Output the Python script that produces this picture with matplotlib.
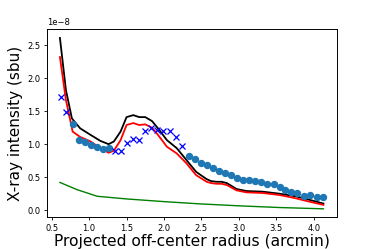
import matplotlib
matplotlib.use("Agg")
import matplotlib.pyplot as plt
import numpy as np

# Data (units of 1e-8 sbu)
dot_x = [0.78, 0.86, 0.94, 1.03, 1.11, 1.19, 1.27,
         2.33, 2.41, 2.49, 2.57, 2.65, 2.74, 2.81, 2.89, 2.97, 3.05, 3.13, 3.22,
         3.30, 3.38, 3.47, 3.55, 3.62, 3.70, 3.78, 3.87, 3.95, 4.04, 4.12]
dot_y = [1.30, 1.07, 1.03, 0.99, 0.95, 0.93, 0.94,
         0.82, 0.77, 0.72, 0.68, 0.64, 0.59, 0.56, 0.53, 0.49, 0.45, 0.46, 0.44,
         0.42, 0.40, 0.40, 0.35, 0.31, 0.28, 0.26, 0.22, 0.23, 0.20, 0.20]

cross_x = [0.62, 0.69, 1.35, 1.43, 1.51, 1.59, 1.67, 1.75, 1.83, 1.91, 1.99, 2.08, 2.16, 2.24]
cross_y = [1.71, 1.48, 0.90, 0.89, 1.02, 1.08, 1.06, 1.20, 1.24, 1.21, 1.20, 1.20, 1.11, 0.97]

black_x = [0.61, 0.69, 0.77, 0.88, 1.02, 1.15, 1.26, 1.33, 1.42, 1.50, 1.59, 1.67, 1.75,
           1.84, 1.92, 2.04, 2.17, 2.30, 2.43, 2.57, 2.63, 2.70, 2.77, 2.84, 2.97, 3.10,
           3.32, 3.54, 3.76, 3.90, 4.13]
black_y = [2.61, 1.82, 1.39, 1.24, 1.14, 1.05, 1.00, 1.04, 1.19, 1.41, 1.44, 1.41, 1.41,
           1.35, 1.24, 1.06, 0.94, 0.76, 0.58, 0.47, 0.44, 0.43, 0.43, 0.41, 0.32, 0.29,
           0.28, 0.25, 0.21, 0.17, 0.10]

red_x = [0.61, 0.69, 0.78, 0.88, 1.02, 1.15, 1.26, 1.33, 1.42, 1.50, 1.59, 1.67, 1.75,
         1.84, 1.92, 2.04, 2.17, 2.30, 2.43, 2.57, 2.63, 2.70, 2.77, 2.84, 2.97, 3.10,
         3.32, 3.54, 3.76, 3.90, 4.13]
red_y = [2.32, 1.67, 1.19, 1.11, 1.04, 0.94, 0.87, 0.90, 1.06, 1.29, 1.32, 1.29, 1.30,
         1.25, 1.14, 0.96, 0.86, 0.71, 0.53, 0.43, 0.41, 0.40, 0.40, 0.38, 0.30, 0.27,
         0.26, 0.23, 0.18, 0.14, 0.08]

green_x = [0.61, 0.84, 1.11, 1.50, 1.99, 2.48, 3.01, 3.54, 4.13]
green_y = [0.42, 0.31, 0.21, 0.17, 0.13, 0.095, 0.065, 0.04, 0.02]

scale = 1e-8

fig = plt.figure(figsize=(3.74, 2.49), dpi=100)
ax = fig.add_axes([0.125, 0.127, 0.775, 0.755])

ax.plot(np.array(black_x), np.array(black_y) * scale, color='k', lw=1.3)
ax.plot(np.array(red_x), np.array(red_y) * scale, color='r', lw=1.3)
ax.plot(np.array(green_x), np.array(green_y) * scale, color='g', lw=1.0)
ax.plot(np.array(dot_x), np.array(dot_y) * scale, 'o', color='#1f77b4', ms=4.3, ls='none')
ax.plot(np.array(cross_x), np.array(cross_y) * scale, 'x', color='b', ms=4, mew=0.9, ls='none')

ax.set_xticks([0.5, 1.0, 1.5, 2.0, 2.5, 3.0, 3.5, 4.0])
ax.set_yticks(np.array([0.0, 0.5, 1.0, 1.5, 2.0, 2.5]) * scale)
ax.tick_params(labelsize=6, length=2.5, width=0.6, pad=2)
ax.yaxis.get_offset_text().set_fontsize(6)
for s in ax.spines.values():
    s.set_linewidth(0.7)

ax.set_xlabel('Projected off-center radius (arcmin)', fontsize=11.2, labelpad=1)
ax.set_ylabel('X-ray intensity (sbu)', fontsize=11, labelpad=3)

fig.savefig('out.png', dpi=100)
